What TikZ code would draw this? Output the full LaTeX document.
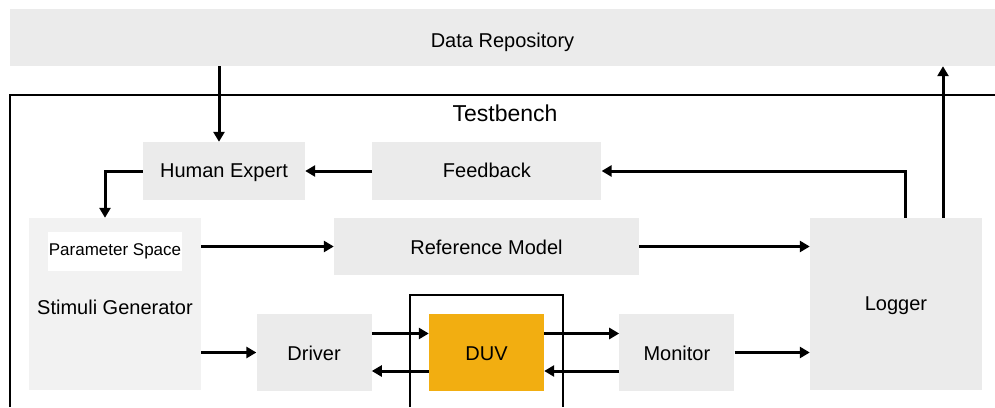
\documentclass[tikz,border=0pt]{standalone}
\usepackage{fontspec}
\setmainfont{Liberation Sans}
\usetikzlibrary{arrows.meta, positioning}

\definecolor{boxgray}{HTML}{EBEBEB}
\definecolor{stimgray}{HTML}{F2F2F2}
\definecolor{duvorange}{HTML}{F2AE11}

\tikzset{
    block/.style={fill=boxgray, inner sep=0, align=center,
        text height=15pt, text depth=0pt,
        font=\fontsize{20}{24}\selectfont},
    flow/.style={-{Triangle[width=11pt,length=10pt]}, line width=3pt},
}

\begin{document}
\begin{tikzpicture}[x=1pt, y=-1pt]
\useasboundingbox (0,0) rectangle (995,407);

\node[block,
    text height=20pt,
    minimum width=985pt,
    minimum height=57pt] (repo) at (502.5,37.5) {Data Repository};

% testbench frame
\draw[line width=1.8pt] (10,407) -- (10,95) -- (995,95);
\node[font=\fontsize{23}{27}\selectfont] (tblabel) at (505,113) {Testbench};

\node[block,
    text height=12pt,
    minimum width=162pt,
    minimum height=58pt] (human) at (224,171) {Human Expert};

\node[block,
    right=67pt of human,
    text height=12pt,
    minimum width=229pt,
    minimum height=58pt] (feedback) {Feedback};

\node[block,
    fill=stimgray,
    text height=20.5pt,
    minimum width=172pt,
    minimum height=172pt] (stimuli) at (115,304) {Stimuli Generator};

\node[fill=white,
    inner sep=0,
    minimum width=134pt,
    minimum height=39pt,
    font=\fontsize{17}{20}\selectfont] (param) at (115,251.5) {Parameter Space};

\node[block,
    minimum width=305pt,
    minimum height=57pt] (refmodel) at (486.5,246.5) {Reference Model};

\node[block,
    text height=13pt,
    minimum width=172pt,
    minimum height=172pt] (logger) at (896,304) {Logger};

% DUV and its wrapper
\draw[line width=1.8pt] (410,407) -- (410,295) -- (563,295) -- (563,407);

\node[block,
    fill=duvorange,
    minimum width=115pt,
    minimum height=77pt] (duv) at (486.5,352.5) {DUV};

\node[block,
    left=57pt of duv,
    minimum width=115pt,
    minimum height=77pt] (driver) {Driver};

\node[block,
    right=75pt of duv,
    minimum width=115pt,
    minimum height=77pt] (monitor) {Monitor};

\draw[flow] ([xshift=-5pt]human.north |- repo.south) -- ([xshift=-5pt]human.north);
\draw[flow] (feedback.west) -- (human.east);
\draw[flow] (human.west) -| ([xshift=-10pt]stimuli.north);
\draw[flow] (stimuli.east |- refmodel.west) -- (refmodel.west);
\draw[flow] (refmodel.east) -- (refmodel.east -| logger.west);
\draw[flow] (stimuli.east |- driver.west) -- (driver.west);
\draw[flow] ([yshift=19pt]driver.east) -- ([yshift=19pt]duv.west);
\draw[flow] ([yshift=-18.5pt]duv.west) -- ([yshift=-18.5pt]driver.east);
\draw[flow] ([yshift=19pt]duv.east) -- ([yshift=19pt]monitor.west);
\draw[flow] ([yshift=-18.5pt]monitor.west) -- ([yshift=-18.5pt]duv.east);
\draw[flow] (monitor.east) -- (monitor.east -| logger.west);
\draw[flow] ([xshift=9pt]logger.north) |- (feedback.east);
\draw[flow] ([xshift=47pt]logger.north) -- ([xshift=47pt]logger.north |- repo.south);

\end{tikzpicture}
\end{document}
